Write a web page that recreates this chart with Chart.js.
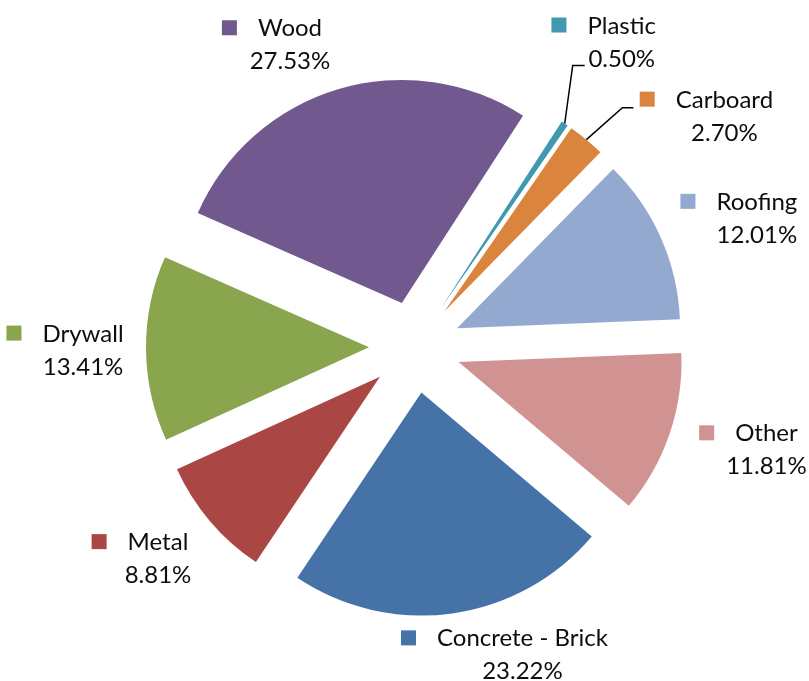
<!DOCTYPE html>
<html>
<head>
<meta charset="utf-8">
<script src="https://cdn.jsdelivr.net/npm/chart.js@4.4.1/dist/chart.umd.min.js"></script>
<style>
  html, body { margin: 0; padding: 0; background: #ffffff; }
  #wrap { width: 809px; height: 681px; }
</style>
</head>
<body>
<div id="wrap"><canvas id="pie" width="809" height="681"></canvas></div>
<script>
// Waste composition by material (share of total, %)
const categories = ['Wood', 'Plastic', 'Carboard', 'Roofing', 'Other', 'Concrete - Brick', 'Metal', 'Drywall'];
const shares = [27.53, 0.50, 2.70, 12.01, 11.81, 23.22, 8.81, 13.41];
const sliceColors = ['#71588F', '#4198AF', '#DB843D', '#93A9CF', '#D19392', '#4572A7', '#AA4643', '#89A54E'];

// Layout of the pie
const PIE_RADIUS = 223;      // px
const EXPLODE = 46;          // px each slice is pulled out from the centre
const START_ANGLE = -66.2;   // degrees from 12 o'clock

// Label block nudges (px) from each slice's outer midpoint
const labelShift = [[-48, -45], [57, -82], [138, -24], [96, -20], [97, 15], [70, 41], [-52, 37], [-63, 1]];
// Leader lines for the thin slices: end point relative to label anchor, and bend length
const leaders = { 1: { end: [-37, 24], bend: 12 }, 2: { end: [-91, -8], bend: 11 } };

const FONT = '24px Lato';
const LINE_GAP = 33;

// Exploded pie: move every arc out along its bisector by a fixed distance,
// keeping its radius and sweep unchanged.
const explode = {
  id: 'explode',
  afterDatasetsUpdate(chart) {
    const meta = chart.getDatasetMeta(0);
    meta.data.forEach(arc => {
      const mid = (arc.startAngle + arc.endAngle) / 2;
      arc.x += Math.cos(mid) * EXPLODE;
      arc.y += Math.sin(mid) * EXPLODE;
    });
  }
};

// Outside-end labels: colour key, category name and percentage, plus leader lines.
const sliceLabels = {
  id: 'sliceLabels',
  afterDatasetsDraw(chart) {
    const ctx = chart.ctx;
    const meta = chart.getDatasetMeta(0);
    ctx.save();
    ctx.font = FONT;
    ctx.textBaseline = 'alphabetic';
    ctx.textAlign = 'left';
    meta.data.forEach((arc, i) => {
      const mid = (arc.startAngle + arc.endAngle) / 2;
      const ox = arc.x + Math.cos(mid) * arc.outerRadius;
      const oy = arc.y + Math.sin(mid) * arc.outerRadius;
      const ax = ox + labelShift[i][0];
      const ay = oy + labelShift[i][1];
      const name = categories[i];
      const pct = shares[i].toFixed(2) + '%';
      const w1 = ctx.measureText(name).width;
      const w2 = ctx.measureText(pct).width;
      const b1 = ay - 8;
      const b2 = b1 + LINE_GAP;
      const x1 = ax - w1 / 2;
      ctx.fillStyle = '#0d0d0d';
      ctx.fillText(name, x1, b1);
      ctx.fillText(pct, ax - w2 / 2, b2);
      ctx.fillStyle = sliceColors[i];
      ctx.fillRect(x1 - 21 - 15, b1 - 16, 15, 15);
      const ld = leaders[i];
      if (ld) {
        const ex = ax + ld.end[0], ey = ay + ld.end[1];
        ctx.beginPath();
        ctx.moveTo(ox, oy);
        ctx.lineTo(ex - ld.bend, ey);
        ctx.lineTo(ex, ey);
        ctx.strokeStyle = '#000000';
        ctx.lineWidth = 1.5;
        ctx.stroke();
      }
    });
    ctx.restore();
  }
};

new Chart(document.getElementById('pie'), {
  type: 'pie',
  data: {
    labels: categories,
    datasets: [{
      data: shares,
      backgroundColor: sliceColors,
      borderWidth: 0,
      hoverOffset: 0,
      clip: false
    }]
  },
  options: {
    responsive: false,
    animation: false,
    rotation: START_ANGLE,
    radius: PIE_RADIUS,
    layout: { padding: { left: 21, top: 13, right: 0, bottom: 0 } },
    plugins: { legend: { display: false }, tooltip: { enabled: false } },
    events: []
  },
  plugins: [explode, sliceLabels]
});
</script>
</body>
</html>
